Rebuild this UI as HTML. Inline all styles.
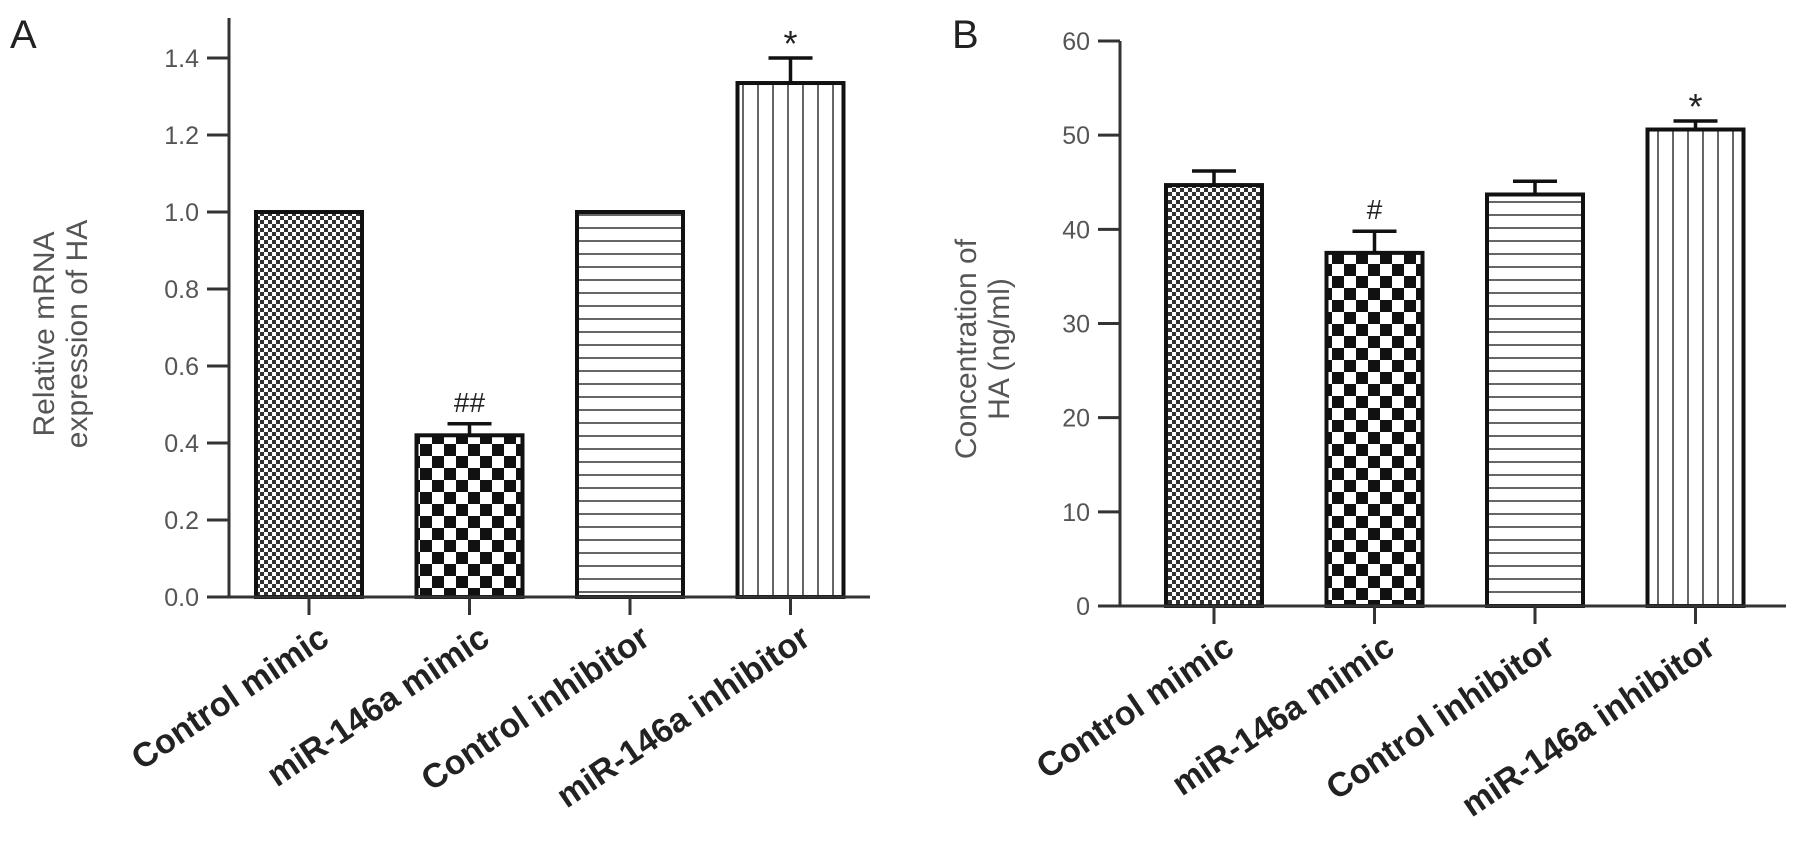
<!DOCTYPE html>
<html><head><meta charset="utf-8">
<style>
html,body{margin:0;padding:0;background:#fff;}
svg{display:block;}
text{font-family:"Liberation Sans",sans-serif;}
.tick{fill:#555;font-size:25px;}
.title{fill:#555;font-size:30px;}
.xl{fill:#222;font-size:34px;font-weight:bold;}
</style></head>
<body>
<svg id="chart" width="1795" height="855" viewBox="0 0 1795 855" xmlns="http://www.w3.org/2000/svg">
<defs>
<pattern id="p0" width="8" height="8" patternUnits="userSpaceOnUse">
<rect width="8" height="8" fill="#fff"/><rect x="0" y="0" width="4" height="4" fill="#333"/><rect x="4" y="4" width="4" height="4" fill="#333"/>
</pattern>
<pattern id="p1" width="24" height="24" patternUnits="userSpaceOnUse">
<rect width="24" height="24" fill="#fff"/><rect x="0" y="0" width="12" height="12" fill="#111"/><rect x="12" y="12" width="12" height="12" fill="#111"/>
</pattern>
<pattern id="p2" width="10" height="13" patternUnits="userSpaceOnUse">
<rect width="10" height="13" fill="#fff"/><rect x="0" y="6" width="10" height="2" fill="#666"/>
</pattern>
<pattern id="p3" width="15" height="10" patternUnits="userSpaceOnUse">
<rect width="15" height="10" fill="#fff"/><rect x="7" y="0" width="2" height="10" fill="#666"/>
</pattern>
</defs>
<g id="panelA"></g>
<g id="panelB"></g>
</svg>
<script>
const categories = ["Control mimic","miR-146a mimic","Control inhibitor","miR-146a inhibitor"];
const valuesA = [1.0, 0.42, 1.0, 1.335];
const errorsA = [0, 0.03, 0, 0.065];
const annotA = ["", "##", "", "*"];
const ticksA = [0,0.2,0.4,0.6,0.8,1.0,1.2,1.4];
const tickLabelsA = ["0.0","0.2","0.4","0.6","0.8","1.0","1.2","1.4"];
const valuesB = [44.7, 37.5, 43.7, 50.6];
const errorsB = [1.5, 2.3, 1.4, 0.9];
const annotB = ["", "#", "", "*"];
const ticksB = [0,10,20,30,40,50,60];
const tickLabelsB = ["0","10","20","30","40","50","60"];

const NS = "http://www.w3.org/2000/svg";
function mk(parent, tag, attrs, text){
  const e = document.createElementNS(NS, tag);
  for (const k in attrs) e.setAttribute(k, attrs[k]);
  if (text !== undefined) e.textContent = text;
  parent.appendChild(e);
  return e;
}
const patterns = ["url(#p0)","url(#p1)","url(#p2)","url(#p3)"];

function drawPanel(g, cfg){
  const y = v => cfg.y0 - (v - cfg.vmin) / (cfg.vmax - cfg.vmin) * (cfg.y0 - cfg.yTopTick);
  const xc = i => cfg.xStart + cfg.bw/2 + i * cfg.step;
  const L = mk(g,"text",{x:cfg.letterX,y:48,"font-size":"40",fill:"#222"},cfg.letter);
  
  
  const ya = mk(g,"line",{x1:cfg.ax,y1:cfg.axTop,x2:cfg.ax,y2:cfg.y0,stroke:"#333","stroke-width":3});
  
  
  cfg.ticks.forEach((t,i)=>{
    const tl = mk(g,"line",{x1:cfg.ax-22,y1:y(t),x2:cfg.ax,y2:y(t),stroke:"#333","stroke-width":3});
    
    
    const tx = mk(g,"text",{x:cfg.ax-30,y:y(t)+9,"text-anchor":"end",class:"tick"},cfg.tickLabels[i]);
    
    
  });
  const tt = mk(g,"text",{transform:`translate(${cfg.titleX},${cfg.titleY}) rotate(-90)`,"text-anchor":"middle",class:"title"});
  
  
  cfg.title.forEach((s,i)=>{ mk(tt,"tspan",{x:0,y:i*33},s); });
  cfg.values.forEach((v,i)=>{
    const x0 = cfg.xStart + i*cfg.step;
    const b = mk(g,"rect",{x:x0,y:y(v),width:cfg.bw,height:cfg.y0-y(v),fill:patterns[i],stroke:"#111","stroke-width":4});
    
    
    if (cfg.errors[i] > 0){
      const ye = y(v + cfg.errors[i]);
      const el = mk(g,"path",{d:`M${xc(i)},${y(v)} V${ye} M${xc(i)-22},${ye} H${xc(i)+22}`,stroke:"#111","stroke-width":3.5,fill:"none"});
      
      
    }
    if (cfg.annot[i]){
      const ye = y(v + cfg.errors[i]);
      const isStar = cfg.annot[i] === "*";
      const an = mk(g,"text",{x:xc(i),y:isStar?ye-2:ye-12,"text-anchor":"middle","font-size":isStar?"36":"28",fill:"#222"},cfg.annot[i]);
      
      
    }
    const xt = mk(g,"line",{x1:xc(i),y1:cfg.y0,x2:xc(i),y2:cfg.y0+18,stroke:"#333","stroke-width":3});
    
    
    const xl = mk(g,"text",{transform:`translate(${xc(i)+22},${cfg.y0+46}) rotate(-34)`,"text-anchor":"end",class:"xl"},categories[i]);
    
    
  });
  const xa = mk(g,"line",{x1:cfg.ax,y1:cfg.y0,x2:cfg.axEnd,y2:cfg.y0,stroke:"#333","stroke-width":3});
  
  
}

drawPanel(document.getElementById("panelA"),{
  letter:"A", letterX:10, ax:229, axTop:18, axEnd:870, y0:597, yTopTick:58, vmin:0, vmax:1.4,
  ticks:ticksA, tickLabels:tickLabelsA, values:valuesA, errors:errorsA, annot:annotA,
  xStart:256, bw:106, step:160.5, title:["Relative mRNA","expression of HA"], titleX:54, titleY:334
});
drawPanel(document.getElementById("panelB"),{
  letter:"B", letterX:952, ax:1120, axTop:41, axEnd:1786, y0:606, yTopTick:41, vmin:0, vmax:60,
  ticks:ticksB, tickLabels:tickLabelsB, values:valuesB, errors:errorsB, annot:annotB,
  xStart:1166, bw:96, step:160.5, title:["Concentration of","HA (ng/ml)"], titleX:976, titleY:349
});
</script>
</body></html>
